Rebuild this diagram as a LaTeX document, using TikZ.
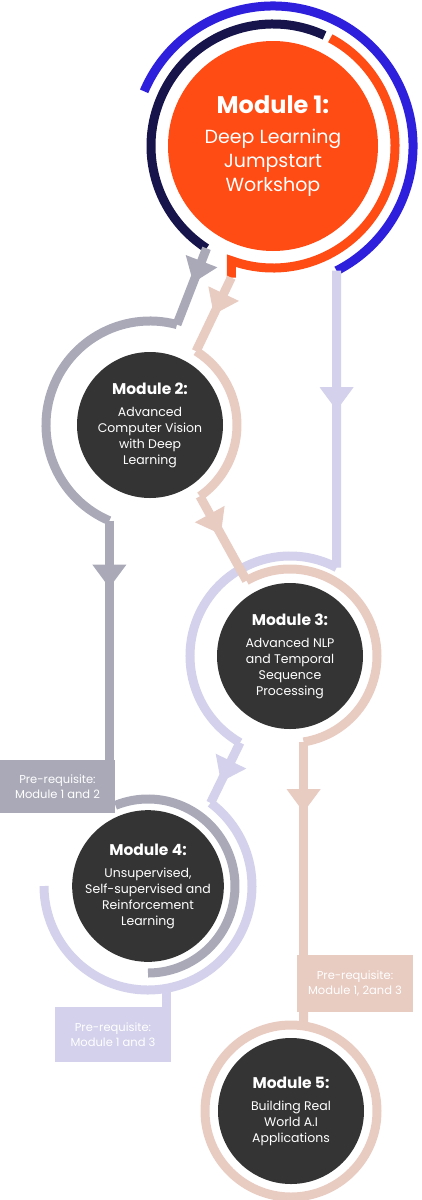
\documentclass[tikz,border=0pt]{standalone}
\usepackage{fontspec}
\setmainfont{Poppins}
\usetikzlibrary{arrows.meta,decorations.markings}
\definecolor{orangeM}{HTML}{FF4B14}
\definecolor{navyM}{HTML}{16144A}
\definecolor{blueM}{HTML}{2E1FDD}
\definecolor{grayM}{HTML}{A9A9B8}
\definecolor{pinkM}{HTML}{E8CBC1}
\definecolor{lavM}{HTML}{D3D1EB}
\definecolor{darkM}{HTML}{343434}

\begin{document}
\begin{tikzpicture}[x=1pt, y=1pt,
	every node/.style={text=white, align=center},
	mod/.style={circle, fill=darkM, minimum size=146pt, inner sep=0pt, font=\fontsize{12.5}{16}\selectfont},
	ring/.style={line width=9pt},
	prebox/.style={minimum width=116pt, minimum height=55pt, inner sep=0pt, font=\fontsize{11.5}{15}\selectfont},
	midarrow/.style={postaction={decorate}, decoration={markings, mark=at position #1 with {\arrow{Triangle[width=34pt,length=23pt,line width=0pt]}}}}]
	\useasboundingbox (0,0) rectangle (421,-1200);
	\node[mod, fill=orangeM, minimum size=210pt, font=\fontsize{19}{24}\selectfont] (m1) at (273,-146) {{\fontsize{24}{30}\selectfont\bfseries Module 1:}\\[6pt]Deep Learning\\Jumpstart\\Workshop};
	\node[mod] (m2) at (150,-425) {{\fontsize{15.5}{20}\selectfont\bfseries Module 2:}\\[6pt]Advanced\\Computer Vision\\with Deep\\Learning};
	\node[mod] (m3) at (290,-656) {{\fontsize{15.5}{20}\selectfont\bfseries Module 3:}\\[6pt]Advanced NLP\\and Temporal\\Sequence\\Processing};
	\node[mod] (m4) at (148,-886) {{\fontsize{15.5}{20}\selectfont\bfseries Module 4:}\\[6pt]Unsupervised,\\Self-supervised and\\Reinforcement\\Learning};
	\node[mod] (m5) at (291,-1111) {{\fontsize{15.5}{20}\selectfont\bfseries Module 5:}\\[6pt]Building Real\\World A.I\\Applications};
	\node[prebox, fill=grayM, minimum width=115pt, minimum height=53pt] (pre12) at (57.5,-786.5) {Pre-requisite:\\Module 1 and 2};
	\node[prebox, fill=lavM] (pre13) at (113,-1034.5) {Pre-requisite:\\Module 1 and 3};
	\node[prebox, fill=pinkM, minimum height=57pt] (pre123) at (355,-983.5) {Pre-requisite:\\Module 1, 2and 3};

	\draw[ring, blueM] ([shift={(157:140)}]m1.center) arc[start angle=157, end angle=-63, radius=140] coordinate (b1);
	\draw[ring, navyM] ([shift={(65:122)}]m1.center) arc[start angle=65, end angle=237, radius=122] coordinate (n1);
	\draw[ring, orangeM] ([shift={(62:122)}]m1.center) arc[start angle=62, end angle=-110, radius=122] -- ++(0,-17) coordinate (o1);

	\draw[ring, lavM, midarrow=.47] (b1) -- ([shift={(62.2:100)}]m3.center) coordinate (l3a);
	\draw[ring, lavM] (l3a) arc[start angle=62.2, end angle=240, radius=100] coordinate (l3b);
	\draw[ring, lavM, midarrow=.65] (l3b) -- ([shift={(53:104)}]m4.center) coordinate (l4a);
	\draw[ring, lavM] (l4a) arc[start angle=53, end angle=-180, radius=104];
	\draw[ring, lavM] ([shift={(-79.5:104)}]m4.center) coordinate (l4b) -- (l4b |- pre13.north);

	\draw[ring, grayM, midarrow=.45] (n1) -- ([shift={(75:104)}]m2.center) coordinate (g2a);
	\draw[ring, grayM] (g2a) arc[start angle=75, end angle=247, radius=104] coordinate (g2b);
	\draw[ring, grayM, midarrow=.28] (g2b) -- (g2b |- pre12.north);
	\draw[ring, grayM] ([shift={(112:87)}]m4.center) arc[start angle=112, end angle=-90, radius=87];

	\draw[ring, pinkM, midarrow=.5] (o1) -- ([shift={(58:87)}]m2.center) coordinate (p2a);
	\draw[ring, pinkM] (p2a) arc[start angle=58, end angle=-55, radius=87] coordinate (p2b);
	\draw[ring, pinkM, midarrow=.45] (p2b) -- ([shift={(120:87)}]m3.center) coordinate (p3a);
	\draw[ring, pinkM] (p3a) arc[start angle=120, end angle=-81, radius=87] coordinate (p3b);
	\draw[ring, pinkM, midarrow=.33] (p3b) -- (p3b |- pre123.north);
	\draw[ring, pinkM] (pre123.south -| p3b) -- ([shift={(81.6:86)}]m5.center);
	\draw[ring, pinkM] (m5) circle[radius=86];
\end{tikzpicture}
\end{document}
